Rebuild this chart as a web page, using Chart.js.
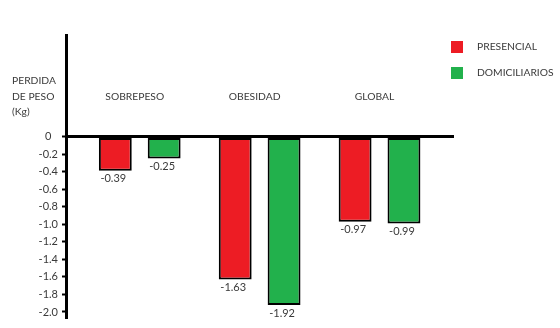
<!DOCTYPE html>
<html><head><meta charset="utf-8">
<script src="https://cdn.jsdelivr.net/npm/chart.js@4"></script>
<style>html,body{margin:0;padding:0;background:#fff}</style>
</head><body>
<canvas id="c" width="560" height="328"></canvas>
<script>
const categories = ['SOBREPESO', 'OBESIDAD', 'GLOBAL'];
const seriesNames = ['PRESENCIAL', 'DOMICILIARIOS'];
const presencial = [-0.39, -1.63, -0.97];
const domiciliarios = [-0.25, -1.92, -0.99];
const yTickValues = [0, -0.2, -0.4, -0.6, -0.8, -1.0, -1.2, -1.4, -1.6, -1.8, -2.0];
const yTickLabels = ['0', '-0.2', '-0.4', '-0.6', '-0.8', '-1.0', '-1.2', '-1.4', '-1.6', '-1.8', '-2.0'];
const axisTitleLines = ['PERDIDA', 'DE PESO', '(Kg)'];

const FONT = 'Lato, "Open Sans", sans-serif';
const TEXT = '#3a3a3a';
const colors = ['#ED1C24', '#22B14C'];

const textPlugin = {
  id: 'texts',
  afterDraw(chart) {
    const ctx = chart.ctx;
    const xs = chart.scales.x;
    ctx.save();
    ctx.fillStyle = TEXT;
    ctx.font = '10.3px ' + FONT;
    ctx.textAlign = 'left';
    ctx.textBaseline = 'middle';
    axisTitleLines.forEach((t, i) => ctx.fillText(t, 12, 81 + i * 15.5));
    ctx.textAlign = 'center';
    categories.forEach((c, i) => ctx.fillText(c, xs.getPixelForValue(i + 1) - 5, 97));
    ctx.font = '11px ' + FONT;
    chart.data.datasets.forEach((ds, di) => {
      const meta = chart.getDatasetMeta(di);
      meta.data.forEach((bar, i) => {
        ctx.fillText(ds.data[i].y.toFixed(2), bar.x - 2, bar.y + 8);
      });
    });
    ctx.font = '10.3px ' + FONT;
    chart.data.datasets.forEach((ds, di) => {
      const y = 41 + di * 26;
      ctx.fillStyle = ds.backgroundColor;
      ctx.fillRect(451, y, 12, 12);
      ctx.fillStyle = TEXT;
      ctx.textAlign = 'left';
      ctx.fillText(ds.label, 477, y + 6);
    });
    ctx.restore();
  }
};

new Chart(document.getElementById('c'), {
  type: 'bar',
  data: {
    datasets: [
      { label: seriesNames[0], data: categories.map((c, i) => ({ x: i + 1, y: presencial[i] })),
        backgroundColor: colors[0], borderColor: '#000', borderWidth: 2, borderSkipped: false },
      { label: seriesNames[1], data: categories.map((c, i) => ({ x: i + 1, y: domiciliarios[i] })),
        backgroundColor: colors[1], borderColor: '#000', borderWidth: 2, borderSkipped: false }
    ]
  },
  options: {
    responsive: false,
    animation: false,
    devicePixelRatio: 1,
    categoryPercentage: 0.815,
    barPercentage: 0.673,
    layout: { padding: { top: 35, bottom: 11, right: 106, left: 0 } },
    plugins: { legend: { display: false }, tooltip: { enabled: false } },
    scales: {
      x: {
        type: 'linear', display: false, min: 0.385, max: 3.621, offset: false,
        afterBuildTicks: s => { s.ticks = categories.map((c, i) => ({ value: i + 1 })); }
      },
      y: {
        min: -2.057, max: 1.157,
        afterFit: s => { s.width = 66; },
        afterBuildTicks: s => { s.ticks = yTickValues.map(v => ({ value: v })); },
        border: { display: true, color: '#000', width: 3 },
        grid: {
          drawOnChartArea: true,
          color: c => (c.tick && c.tick.value === 0) ? '#000' : 'rgba(0,0,0,0)',
          lineWidth: c => (c.tick && c.tick.value === 0) ? 3 : 1,
          tickColor: '#000', tickWidth: 2, tickLength: 4
        },
        ticks: {
          crossAlign: 'center', padding: 4, color: TEXT,
          font: { family: FONT, size: 11 },
          callback: (v, i) => yTickLabels[i]
        }
      }
    }
  },
  plugins: [textPlugin]
});
</script>
</body></html>
